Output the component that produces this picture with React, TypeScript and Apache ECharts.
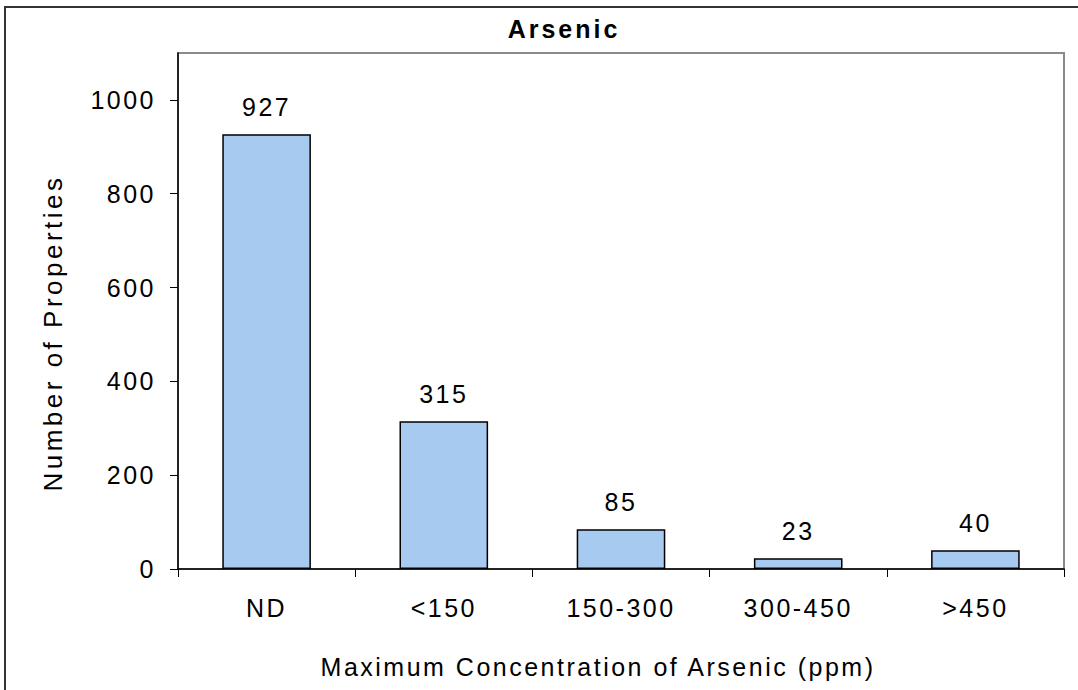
import React, { useEffect, useRef } from "react";
import * as echarts from "echarts";

const categories = ["ND", "<150", "150-300", "300-450", ">450"];
const propertyCounts = [927, 315, 85, 23, 40];
const yTickValues = [0, 200, 400, 600, 800, 1000];

const TITLE = "Arsenic";
const X_NAME = "Maximum Concentration of Arsenic (ppm)";
const Y_NAME = "Number of Properties";

const FONT = "'Liberation Sans', Arial, sans-serif";

// Wide, evenly tracked lettering for the chart's texts.
function applyTracking(root: HTMLElement) {
  root.querySelectorAll("text").forEach((node) => {
    const t = (node.textContent || "").trim();
    let spacing = "2.5px";
    if (t === TITLE) spacing = "3px";
    else if (t === Y_NAME) spacing = "3.5px";
    (node as SVGTextElement).style.letterSpacing = spacing;
  });
}

export default function App() {
  const ref = useRef<HTMLDivElement>(null);

  useEffect(() => {
    const el = ref.current;
    if (!el) return;
    const chart = echarts.init(el, null, { renderer: "svg" });
    chart.on("finished", () => applyTracking(el));
    chart.setOption({
      animation: false,
      backgroundColor: "#ffffff",
      textStyle: { fontFamily: FONT },
      title: {
        text: TITLE,
        left: 559,
        top: 11,
        textAlign: "center",
        textStyle: { fontFamily: FONT, fontSize: 25, fontWeight: "bold", color: "#000" },
      },
      graphic: [
        {
          type: "rect",
          shape: { x: 5, y: 7, width: 1200, height: 800 },
          style: { fill: "none", stroke: "#333", lineWidth: 2 },
          silent: true,
        },
      ],
      grid: {
        left: 178,
        top: 53,
        right: 14,
        bottom: 121,
        show: true,
        borderColor: "#8a8a8a",
        borderWidth: 2,
        backgroundColor: "#fff",
      },
      xAxis: {
        type: "category",
        data: categories,
        name: X_NAME,
        nameLocation: "middle",
        nameGap: 85,
        nameTextStyle: {
          fontFamily: FONT,
          fontSize: 25,
          color: "#000",
          padding: [0, 46, 0, 0],
        },
        axisLine: { lineStyle: { color: "#000", width: 1.5 } },
        axisTick: { show: true, length: 8, lineStyle: { color: "#000" } },
        axisLabel: { fontFamily: FONT, fontSize: 25, color: "#000", margin: 26 },
      },
      yAxis: {
        type: "value",
        min: 0,
        max: 1100,
        interval: 200,
        name: Y_NAME,
        nameLocation: "middle",
        nameGap: 112,
        nameTextStyle: {
          fontFamily: FONT,
          fontSize: 26,
          color: "#000",
          padding: [0, 44, 0, 0],
        },
        axisLine: { show: true, lineStyle: { color: "#000", width: 1.5 } },
        axisTick: { show: true, length: 8, lineStyle: { color: "#000" }, customValues: yTickValues },
        axisLabel: {
          fontFamily: FONT,
          fontSize: 25,
          color: "#000",
          margin: 22,
          customValues: yTickValues,
          formatter: (v: number) => String(v),
        },
        splitLine: { show: false },
      },
      series: [
        {
          type: "bar",
          data: propertyCounts,
          barCategoryGap: "50%",
          silent: true,
          emphasis: { disabled: true },
          itemStyle: { color: "#a6caf0", borderColor: "#000", borderWidth: 1.5 },
          label: {
            show: true,
            position: "top",
            distance: 15,
            fontFamily: FONT,
            fontSize: 25,
            color: "#000",
          },
        },
      ],
    });
    applyTracking(el);
    return () => chart.dispose();
  }, []);

  return (
    <div
      ref={ref}
      style={{ position: "absolute", left: 0, top: 0, width: 1078, height: 690 }}
    />
  );
}
